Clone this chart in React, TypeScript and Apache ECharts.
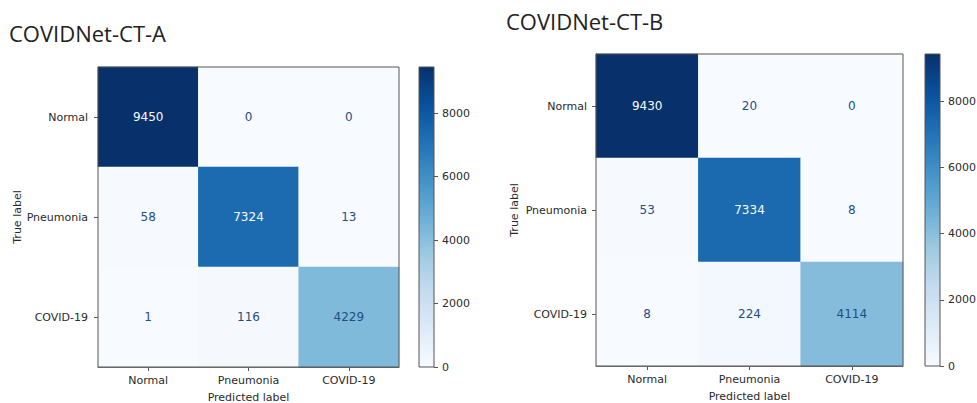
import React, { useEffect, useRef } from "react";
import * as echarts from "echarts";

const categories = ["Normal", "Pneumonia", "COVID-19"];
const titleA = "COVIDNet-CT-A";
const titleB = "COVIDNet-CT-B";
// rows = true label, columns = predicted label
const matrixA = [
  [9450, 0, 0],
  [58, 7324, 13],
  [1, 116, 4229],
];
const matrixB = [
  [9430, 20, 0],
  [53, 7334, 8],
  [8, 224, 4114],
];
const colorbarTicks = [0, 2000, 4000, 6000, 8000];
const blues = ["#f7fbff", "#deebf7", "#c6dbef", "#9ecae1", "#6baed6", "#4292c6", "#2171b5", "#08519c", "#08306b"];

const FONT = "DejaVu Sans";
const AXIS = "#555";
const TEXT = "#2a2a2a";

function buildData(m: number[][]) {
  let max = -Infinity, min = Infinity;
  m.forEach((r) => r.forEach((v) => { max = Math.max(max, v); min = Math.min(min, v); }));
  const thr = (max + min) / 2;
  const data: any[] = [];
  m.forEach((row, yi) =>
    row.forEach((v, xi) => {
      data.push({ value: [xi, yi, v], label: { color: v > thr ? "#f7fbff" : "#1f4e85" } });
    })
  );
  return { data, max };
}

export default function App() {
  const ref = useRef<HTMLDivElement>(null);
  useEffect(() => {
    if (!ref.current) return;
    const chart = echarts.init(ref.current, undefined, { renderer: "svg" });
    const A = buildData(matrixA);
    const B = buildData(matrixB);

    const grids = [
      { left: 98, top: 67, width: 301, height: 300 },
      { left: 419, top: 67, width: 15, height: 300 },
      { left: 596, top: 54, width: 307, height: 312 },
      { left: 925, top: 54, width: 15, height: 312 },
    ].map((g) => ({
      ...g,
      show: true,
      z: 10,
      borderColor: AXIS,
      borderWidth: 1,
      backgroundColor: "transparent",
      containLabel: false,
      outerBoundsMode: "none",
    }));

    const catX = (gi: number) => ({
      type: "category",
      gridIndex: gi,
      data: categories,
      axisLine: { show: true, lineStyle: { color: AXIS } },
      axisTick: { show: true, alignWithLabel: true, length: 4, lineStyle: { color: AXIS } },
      axisLabel: { fontFamily: FONT, fontSize: 11, color: TEXT, margin: 8 },
      splitArea: { show: false },
      name: "Predicted label",
      nameLocation: "middle",
      nameGap: 25,
      nameTextStyle: { fontFamily: FONT, fontSize: 11, color: TEXT },
    });
    const catY = (gi: number, margin: number, gap: number) => ({
      type: "category",
      gridIndex: gi,
      data: categories,
      inverse: true,
      axisLine: { show: true, lineStyle: { color: AXIS } },
      axisTick: { show: true, alignWithLabel: true, length: 4, lineStyle: { color: AXIS } },
      axisLabel: { fontFamily: FONT, fontSize: 11, color: TEXT, margin },
      splitArea: { show: false },
      name: "True label",
      nameLocation: "middle",
      nameGap: gap,
      nameRotate: 90,
      nameTextStyle: { fontFamily: FONT, fontSize: 11, color: TEXT },
    });
    const cbX = (gi: number) => ({
      type: "category",
      gridIndex: gi,
      data: ["cb"],
      show: false,
    });
    const cbY = (gi: number, max: number) => ({
      type: "value",
      gridIndex: gi,
      min: 0,
      max,
      position: "right",
      splitLine: { show: false },
      axisLine: { show: false },
      axisTick: { show: true, length: 4, lineStyle: { color: AXIS }, customValues: colorbarTicks },
      axisLabel: {
        fontFamily: FONT, fontSize: 11, color: TEXT, margin: 8,
        customValues: colorbarTicks,
        formatter: (v: number) => String(v),
      },
    });
    const gradient = () =>
      new echarts.graphic.LinearGradient(
        0, 1, 0, 0,
        blues.map((c, i) => ({ offset: i / (blues.length - 1), color: c }))
      );
    const heat = (xi: number, yi: number, data: any[]) => ({
      type: "heatmap",
      xAxisIndex: xi,
      yAxisIndex: yi,
      data,
      label: { show: true, fontFamily: FONT, fontSize: 12, formatter: (p: any) => String(p.value[2]) },
      itemStyle: { borderWidth: 0 },
      emphasis: { disabled: true },
    });
    const bar = (xi: number, yi: number, max: number) => ({
      type: "bar",
      xAxisIndex: xi,
      yAxisIndex: yi,
      data: [max],
      barWidth: "100%",
      itemStyle: { color: gradient() },
      silent: true,
    });

    chart.setOption({
      animation: false,
      backgroundColor: "#ffffff",
      title: [
        { text: titleA, left: 9, top: 22, padding: 0, textStyle: { fontFamily: "Open Sans", fontSize: 22, fontWeight: "normal", color: "#222" } },
        { text: titleB, left: 506, top: 10, padding: 0, textStyle: { fontFamily: "Open Sans", fontSize: 22, fontWeight: "normal", color: "#222" } },
      ],
      grid: grids,
      xAxis: [catX(0), cbX(1), catX(2), cbX(3)],
      yAxis: [catY(0, 10, 72), cbY(1, A.max), catY(2, 9, 76), cbY(3, B.max)],
      visualMap: [
        { type: "continuous", show: false, seriesIndex: 0, dimension: 2, min: 0, max: A.max, inRange: { color: blues } },
        { type: "continuous", show: false, seriesIndex: 2, dimension: 2, min: 0, max: B.max, inRange: { color: blues } },
      ],
      series: [heat(0, 0, A.data), bar(1, 1, A.max), heat(2, 2, B.data), bar(3, 3, B.max)],
    });
    return () => chart.dispose();
  }, []);
  return (
    <div
      ref={ref}
      style={{ position: "fixed", left: 0, top: 0, width: 977, height: 403, background: "#fff" }}
    />
  );
}
